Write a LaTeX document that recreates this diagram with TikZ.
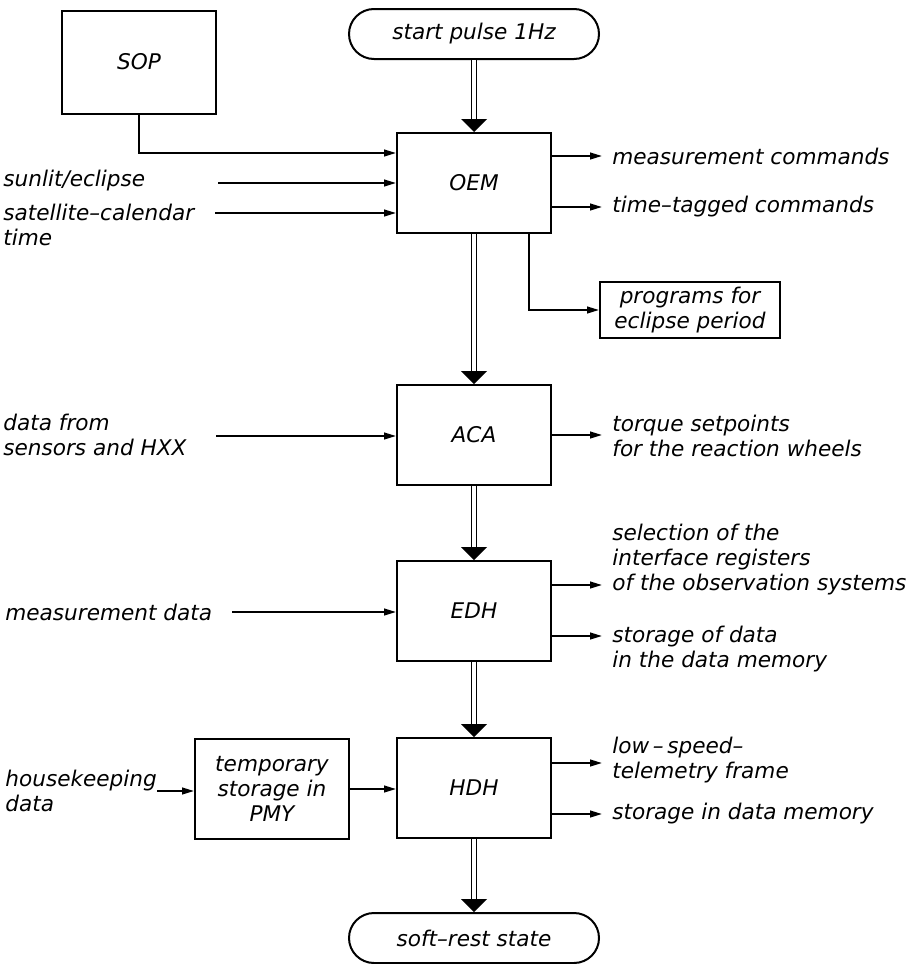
\documentclass[tikz,border=0pt]{standalone}
\usepackage{fontspec}
\setmainfont{DejaVu Sans}
\usetikzlibrary{calc,arrows.meta}
\def\flowarrow(#1)(#2){\draw[flowline] (#1) -- (#2); \fill ($(#2)+(-13,-13)$) -- (#2) -- ($(#2)+(13,-13)$) -- cycle;}

\begin{document}
\begin{tikzpicture}[x=0.5pt,y=-0.5pt,
		font={\fontsize{10.8}{12.5}\selectfont\itshape},
		block/.style={draw, line width=1pt, minimum width=77pt, minimum height=50pt, inner sep=2pt, align=center},
		term/.style={draw, line width=1pt, rounded corners=12.5pt, minimum width=125pt, minimum height=25pt},
		txt/.style={align=left, inner sep=0pt},
		sig/.style={line width=0.9pt, -{Triangle[length=6pt,width=3.4pt]}},
		flowline/.style={double, double distance=1.6pt, line width=0.75pt, shorten >=6pt}]
				\useasboundingbox (0,0) rectangle (909,964);
				
				\node[term] (start) at (474,34) {start pulse 1Hz};
				\node[block, minimum height=51.5pt] (sop) at (139,62) {SOP};
				\node[block] (oem) at (474,183) {OEM};
				\node[block, minimum width=90pt, minimum height=28pt, inner sep=1pt] (prog) at (690,310) {programs for\\eclipse period};
				\node[block] (aca) at (474,435) {ACA};
				\node[block] (edh) at (474,611) {EDH};
				\node[block] (hdh) at (474,788) {HDH};
				\node[block] (tmp) at (272,789) {temporary\\storage in\\PMY};
				\node[term] (rest) at (474,938) {soft--rest state};
				
				\flowarrow(start.south)(oem.north)
				\flowarrow(oem.south)(aca.north)
				\flowarrow(aca.south)(edh.north)
				\flowarrow(edh.south)(hdh.north)
				\flowarrow(hdh.south)(rest.north)
				
				% inputs
				\draw[sig] (sop.south) |- ($(oem.west)+(0,-30)$);
				\node[txt, anchor=west] (sunlit) at (3,181) {sunlit/eclipse};
				\coordinate (sunin) at (218,183);
				\draw[sig] (sunin) -- (sunin -| oem.west);
				\node[txt, anchor=west] (calendar) at (3,225) {satellite--calendar\\time};
				\coordinate (calin) at (215,213);
				\draw[sig] (calin) -- (calin -| oem.west);
				\node[txt, anchor=west] (sensors) at (3,435) {data from\\sensors and HXX};
				\coordinate (sensin) at (216,436);
				\draw[sig] (sensin) -- (sensin -| aca.west);
				\node[txt, anchor=west] (measdata) at (5,612) {measurement data};
				\coordinate (measin) at (232,612);
				\draw[sig] (measin) -- (measin -| edh.west);
				\node[txt, anchor=west] (house) at (5,791) {housekeeping\\data};
				\coordinate (housein) at (157,791);
				\draw[sig] (housein) -- (housein -| tmp.west);
				\draw[sig] (tmp.east) -- (tmp.east -| hdh.west);
				
				% outputs
				\draw[sig] ($(oem.south east)+(-23,0)$) |- (prog.west);
				\coordinate (meascmd) at (602,156);
				\draw[sig] (meascmd -| oem.east) -- (meascmd);
				\node[txt, anchor=west] (meas) at (612,156) {measurement commands};
				\coordinate (tagcmd) at (602,207);
				\draw[sig] (tagcmd -| oem.east) -- (tagcmd);
				\node[txt, anchor=west] (tagged) at (612,207) {time--tagged commands};
				\coordinate (torqueout) at (602,435);
				\draw[sig] (torqueout -| aca.east) -- (torqueout);
				\node[txt, anchor=west] (torque) at (612,435.5) {torque setpoints\\for the reaction wheels};
				\coordinate (selout) at (602,585);
				\draw[sig] (selout -| edh.east) -- (selout);
				\node[txt, anchor=west] (select) at (612,560) {selection of the\\interface registers\\of the observation systems};
				\coordinate (storeout) at (602,636);
				\draw[sig] (storeout -| edh.east) -- (storeout);
				\node[txt, anchor=west] (store) at (612,649.5) {storage of data\\in the data memory};
				\coordinate (lowout) at (602,763);
				\draw[sig] (lowout -| hdh.east) -- (lowout);
				\node[txt, anchor=west] (lowspeed) at (612,760.5) {low\,--\,speed--\\telemetry frame};
				\coordinate (memout) at (602,814);
				\draw[sig] (memout -| hdh.east) -- (memout);
				\node[txt, anchor=west] (memory) at (612,814) {storage in data memory};
			\end{tikzpicture}
\end{document}
